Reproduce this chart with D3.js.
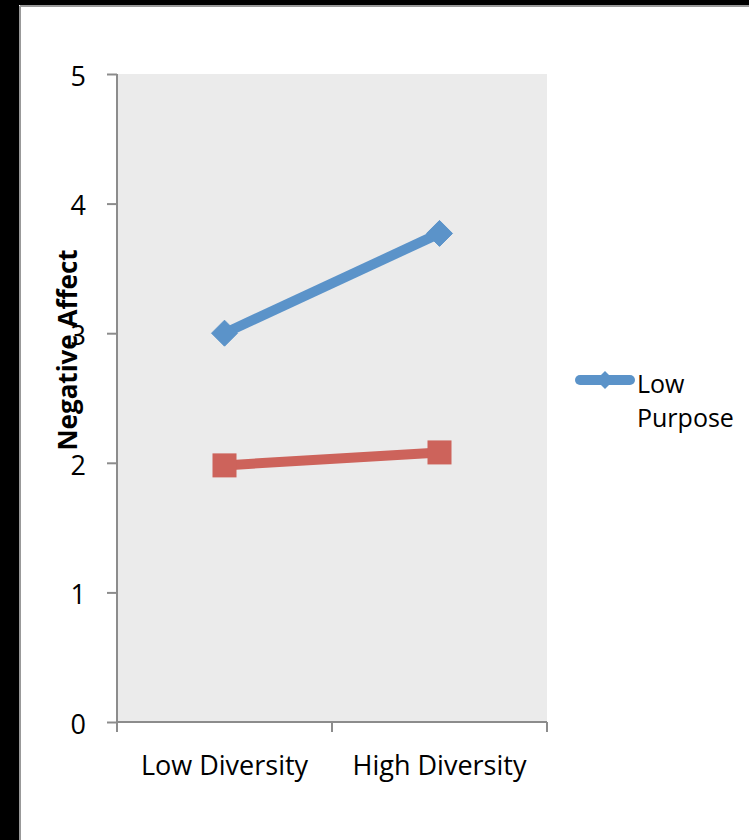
<!DOCTYPE html>
<html><head><meta charset="utf-8">
<script src="https://cdn.jsdelivr.net/npm/d3@7"></script>
<style>body{margin:0;background:#fff}svg{display:block}</style>
</head><body>
<script>
const categories = ["Low Diversity", "High Diversity"];
const seriesNames = ["Low Purpose", "High Purpose"];
const lowPurpose = [3.0, 3.77];
const highPurpose = [1.98, 2.08];
const yTicks = [0, 1, 2, 3, 4, 5];
const legendShown = ["Low Purpose"];

(function(){
const W = 749, H = 840;
const svg = d3.select("body").append("svg").attr("width", W).attr("height", H);
const font = "'Open Sans', sans-serif";

// frame
svg.append("rect").attr("x",0).attr("y",0).attr("width",W).attr("height",H).attr("fill","#fff");
svg.append("rect").attr("x",0).attr("y",0).attr("width",19).attr("height",H).attr("fill","#000");
svg.append("rect").attr("x",0).attr("y",0).attr("width",W).attr("height",5).attr("fill","#000");
svg.append("line").attr("x1",20).attr("x2",W).attr("y1",6).attr("y2",6).attr("stroke","#999").attr("stroke-width",2);
svg.append("line").attr("x1",20).attr("x2",20).attr("y1",6).attr("y2",H).attr("stroke","#999").attr("stroke-width",2);

const pL = 117, pR = 547, pT = 74, pB = 722;
const x = d3.scaleBand().domain(categories).range([pL, pR]);
const y = d3.scaleLinear().domain([0, 5]).range([pB, pT]);

svg.append("rect").attr("x",pL).attr("y",pT).attr("width",pR-pL).attr("height",pB-pT).attr("fill","#ebebeb");

// y axis
const yAxis = svg.append("g").attr("transform",`translate(${pL},0)`)
  .call(d3.axisLeft(y).tickValues(yTicks).tickSize(10).tickPadding(21).tickFormat(d3.format("d")));
yAxis.select(".domain").attr("stroke","#8c8c8c").attr("stroke-width",2).attr("d",`M0,${pT}V${pB}`);
yAxis.selectAll(".tick line").attr("stroke","#8c8c8c").attr("stroke-width",2);
yAxis.selectAll(".tick text").attr("font-family",font).attr("font-size",27).attr("fill","#000").attr("dy","0.42em");

// x axis
const xAxis = svg.append("g").attr("transform",`translate(0,${pB})`)
  .call(d3.axisBottom(x).tickSize(0).tickPadding(34));
xAxis.select(".domain").attr("stroke","#8c8c8c").attr("stroke-width",2).attr("d",`M${pL},0H${pR}`);
xAxis.selectAll(".tick text").attr("font-family",font).attr("font-size",27).attr("fill","#000");
const bounds = [pL, pL + x.step(), pR];
xAxis.selectAll(".xt").data(bounds).enter().append("line")
  .attr("x1",d=>d).attr("x2",d=>d).attr("y1",0).attr("y2",10)
  .attr("stroke","#8c8c8c").attr("stroke-width",2);

// y title
svg.append("text").attr("transform",`translate(77,350) rotate(-90)`)
  .attr("text-anchor","middle").attr("font-family",font).attr("font-weight","bold")
  .attr("font-size",26).attr("fill","#000").text("Negative Affect");

const cx = d => x(d) + x.bandwidth()/2;
const line = d3.line().x((d,i)=>cx(categories[i])).y(d=>y(d));
const blue = "#5b93c9", red = "#cd635b";

svg.append("path").datum(lowPurpose).attr("d",line).attr("fill","none").attr("stroke",blue).attr("stroke-width",10);
svg.append("path").datum(highPurpose).attr("d",line).attr("fill","none").attr("stroke",red).attr("stroke-width",10);

const diamond = (s) => `M0,${-s}L${s},0L0,${s}L${-s},0Z`;
svg.selectAll(".dm").data(lowPurpose).enter().append("path")
  .attr("d", diamond(13)).attr("transform",(d,i)=>`translate(${cx(categories[i])},${y(d)})`)
  .attr("fill",blue).attr("stroke",blue).attr("stroke-width",1).attr("stroke-linejoin","round");
svg.selectAll(".sq").data(highPurpose).enter().append("rect")
  .attr("x",(d,i)=>cx(categories[i])-12).attr("y",d=>y(d)-12).attr("width",24).attr("height",24)
  .attr("fill",red);

// legend
const lg = svg.append("g").attr("transform","translate(577,380)");
lg.append("line").attr("x1",3).attr("x2",53).attr("y1",0).attr("y2",0).attr("stroke",blue).attr("stroke-width",10).attr("stroke-linecap","round");
lg.append("path").attr("d",diamond(9)).attr("transform","translate(28,0)").attr("fill",blue);
const words = legendShown[0].split(" ");
lg.append("text").attr("x",60).attr("y",13).attr("font-family",font).attr("font-size",25).attr("fill","#000").text(words[0]);
lg.append("text").attr("x",60).attr("y",47).attr("font-family",font).attr("font-size",25).attr("fill","#000").text(words[1]);
})();
</script>
</body></html>
